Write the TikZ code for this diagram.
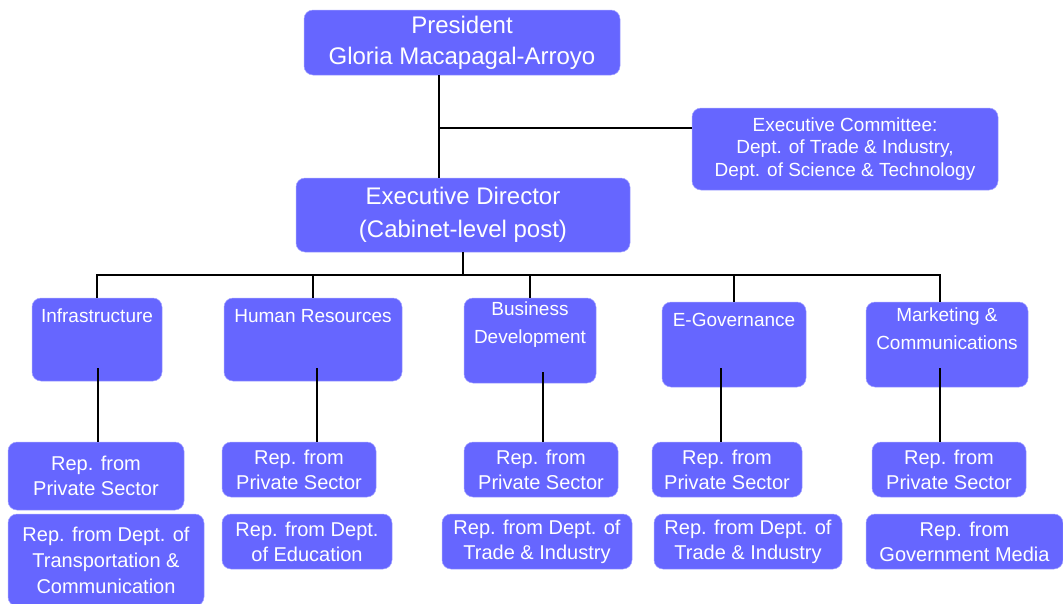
\documentclass[tikz,border=0pt]{standalone}
\usepackage{fontspec}
\setmainfont{Liberation Sans}
\definecolor{boxblue}{RGB}{102,102,255}
\begin{document}
\begin{tikzpicture}[
            x=1pt, y=-1pt,
            box/.style 2 args={
                draw=boxblue!60!white, fill=boxblue, rounded corners=9pt,
                minimum width=#1, minimum height=#2,
                inner sep=0pt, text=white, align=center, line width=0.5pt,
            },
            big/.style={font=\fontsize{24}{31}\selectfont},
            mid/.style={font=\fontsize{19}{22.5}\selectfont},
            unit/.style={text=white, align=center, font=\fontsize{19}{28}\selectfont},
            rep/.style={font=\fontsize{20}{25}\selectfont},
            link/.style={line width=1.5pt},
        ]
        \useasboundingbox (0,0) rectangle (1063,603);

        % top
        \node[box={316}{65}, big] (pres) at (462,42.5) {President\\Gloria Macapagal-Arroyo};
        \node[box={306}{82}, mid] (comm) at (845,149) {Executive Committee:\\Dept. of Trade \& Industry,\\Dept. of Science \& Technology};
        \node[box={334}{74}, big, font=\fontsize{24}{33}\selectfont] (ed) at (463,215) {Executive Director\\(Cabinet-level post)};

        % units
        \node[box={130}{83}] (infra) at (97,339.5) {};
        \node[box={178}{83}] (hr) at (313,339.5) {};
        \node[box={132}{85}] (bd) at (530,340.5) {};
        \node[box={144}{85}] (eg) at (734,344.5) {};
        \node[box={162}{85}] (mc) at (947,344.5) {};

        \node[unit] (infratxt) at (97,316) {Infrastructure};
        \node[unit] (hrtxt) at (313,316) {Human Resources};
        \node[unit] (bdtxt) at (530,325) {Business\\Development};
        \node[unit] (egtxt) at (734,320) {E-Governance};
        \node[unit] (mctxt) at (947,329) {Marketing \&\\Communications};

        % representatives
        \node[box={176}{68}, rep] (infrarep) at (96,476) {Rep. from\\Private Sector};
        \node[box={154}{55}, rep] (hrrep) at (299,469.5) {Rep. from\\Private Sector};
        \node[box={154}{55}, rep] (bdrep) at (541,469.5) {Rep. from\\Private Sector};
        \node[box={150}{55}, rep] (egrep) at (727,469.5) {Rep. from\\Private Sector};
        \node[box={154}{55}, rep] (mcrep) at (949,469.5) {Rep. from\\Private Sector};

        \node[box={196}{92}, rep, font=\fontsize{20}{26}\selectfont] (infradept) at (106,560) {Rep. from Dept. of\\Transportation \&\\Communication};
        \node[box={170}{55}, rep] (hrdept) at (307,541.5) {Rep. from Dept.\\of Education};
        \node[box={190}{55}, rep] (bddept) at (537,541.5) {Rep. from Dept. of\\Trade \& Industry};
        \node[box={188}{55}, rep] (egdept) at (748,541.5) {Rep. from Dept. of\\Trade \& Industry};
        \node[box={197}{55}, rep] (mcdept) at (964.5,541.5) {Rep. from\\Government Media};

        % connectors
        \coordinate (tee) at (439,128);
        \coordinate (bus) at (463,275);
        \coordinate (infratap) at (98,368);
        \coordinate (hrtap) at (317,368);
        \coordinate (bdtap) at (543,372);
        \coordinate (egtap) at (721,368);
        \coordinate (mctap) at (940,368);

        \draw[link] (pres.south -| tee) -- (ed.north -| tee);
        \draw[link] (tee) -- (tee -| comm.west);
        \draw[link] (ed.south) -- (bus);
        \draw[link] (infra.north) -- (infra.north |- bus) -- (mctap |- bus) -- (mctap |- mc.north);
        \draw[link] (hr.north) -- (hr.north |- bus);
        \draw[link] (bd.north) -- (bd.north |- bus);
        \draw[link] (eg.north) -- (eg.north |- bus);

        \draw[link] (infratap) -- (infratap |- infrarep.north);
        \draw[link] (hrtap) -- (hrtap |- hrrep.north);
        \draw[link] (bdtap) -- (bdtap |- bdrep.north);
        \draw[link] (egtap) -- (egtap |- egrep.north);
        \draw[link] (mctap) -- (mctap |- mcrep.north);
    \end{tikzpicture}
\end{document}
